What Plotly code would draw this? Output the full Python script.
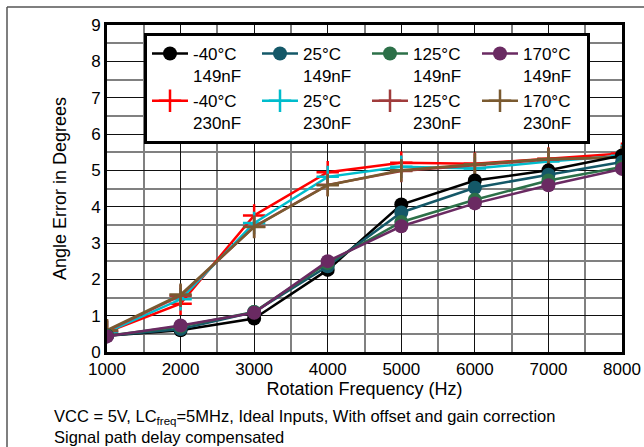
import plotly.graph_objects as go

freq = [1000, 2000, 3000, 4000, 5000, 6000, 7000, 8000]

m40_149 = [0.45, 0.60, 0.92, 2.26, 4.06, 4.72, 5.00, 5.41]
p25_149 = [0.45, 0.63, 1.10, 2.36, 3.84, 4.52, 4.88, 5.23]
p125_149 = [0.45, 0.70, 1.10, 2.45, 3.58, 4.19, 4.72, 5.09]
p170_149 = [0.43, 0.73, 1.08, 2.50, 3.46, 4.09, 4.59, 5.04]

m40_230 = [0.55, 1.33, 3.76, 4.95, 5.21, 5.18, 5.32, 5.46]
p25_230 = [0.55, 1.45, 3.55, 4.82, 5.10, 5.05, 5.24, 5.40]
p125_230 = [0.58, 1.55, 3.45, 4.60, 4.98, 5.15, 5.30, 5.36]
p170_230 = [0.60, 1.58, 3.44, 4.59, 5.00, 5.17, 5.31, 5.36]

names_149 = ["-40°C<br>149nF", "25°C<br>149nF", "125°C<br>149nF", "170°C<br>149nF"]
names_230 = ["-40°C<br>230nF", "25°C<br>230nF", "125°C<br>230nF", "170°C<br>230nF"]
colors_149 = ["#000000", "#145868", "#2c7048", "#6a2a62"]
colors_230 = ["#ff0000", "#00bccc", "#a03c3c", "#7a5a30"]

note_text = ("VCC = 5V, LC<sub>freq</sub>=5MHz, Ideal Inputs, With offset and gain correction"
             "<br>Signal path delay compensated")

series_149 = [m40_149, p25_149, p125_149, p170_149]
series_230 = [m40_230, p25_230, p125_230, p170_230]

fig = go.Figure()

for i, (ys, nm, c) in enumerate(zip(series_230, names_230, colors_230)):
    fig.add_trace(go.Scatter(
        x=freq, y=ys, name=nm, mode="lines+markers",
        line=dict(color=c, width=2.5),
        marker=dict(symbol="cross-thin", size=16, line=dict(color=c, width=2.5)),
        legendrank=10 + i,
    ))

for i, (ys, nm, c) in enumerate(zip(series_149, names_149, colors_149)):
    fig.add_trace(go.Scatter(
        x=freq, y=ys, name=nm, mode="lines+markers",
        line=dict(color=c, width=2.5),
        marker=dict(symbol="circle", size=14, color=c),
        legendrank=1 + i,
    ))

L, R, T, B = 107, 22, 25, 95
W, H = 644, 447
pw = W - L - R
ph = H - T - B

def px_x(p):
    return (p - L) / pw

def px_y(p):
    return (H - B - p) / ph

fig.update_layout(
    width=W, height=H,
    margin=dict(l=L, r=R, t=T, b=B, autoexpand=False),
    paper_bgcolor="white",
    plot_bgcolor="white",
    font=dict(family="Liberation Sans, Arial, sans-serif", size=15, color="black"),
    showlegend=True,
    legend=dict(
        orientation="h",
        x=px_x(144), y=px_y(33), xanchor="left", yanchor="top",
        bgcolor="white", bordercolor="black", borderwidth=3,
        entrywidth=59, entrywidthmode="pixels",
        font=dict(size=17),
        itemwidth=36,
        valign="top",
        traceorder="normal",
        tracegroupgap=0,
    ),
    xaxis=dict(
        range=[1000, 8000], dtick=1000, tick0=1000, automargin=False,
        showgrid=True, gridcolor="#111111", gridwidth=1,
        minor=dict(dtick=500, showgrid=True, gridcolor="#808080", gridwidth=1.5),
        showline=True, linecolor="black", linewidth=3, mirror=True,
        ticks="", zeroline=False,
        title=dict(text="Rotation Frequency (Hz)", font=dict(size=18), standoff=1),
        tickfont=dict(size=17),
    ),
    yaxis=dict(
        range=[0, 9], dtick=1, automargin=False,
        showgrid=True, gridcolor="#111111", gridwidth=1,
        minor=dict(dtick=0.5, showgrid=True, gridcolor="#808080", gridwidth=1.5),
        showline=True, linecolor="black", linewidth=3, mirror=True,
        ticks="", zeroline=False,
        title=dict(text="Angle Error in Degrees", font=dict(size=18), standoff=20),
        tickfont=dict(size=17),
    ),
    annotations=[
        dict(text=note_text, xref="paper", yref="paper", x=px_x(53), y=px_y(447),
             xanchor="left", yanchor="bottom", align="left", showarrow=False,
             font=dict(size=16.5), borderpad=0),
    ],
    shapes=[
        dict(type="line", xref="paper", yref="paper", x0=px_x(7), x1=px_x(644), y0=px_y(7), y1=px_y(7),
             line=dict(color="#555555", width=1.5)),
        dict(type="line", xref="paper", yref="paper", x0=px_x(7), x1=px_x(7), y0=px_y(7), y1=px_y(447),
             line=dict(color="#555555", width=1.5)),
    ],
)

fig.write_html("out.html")
